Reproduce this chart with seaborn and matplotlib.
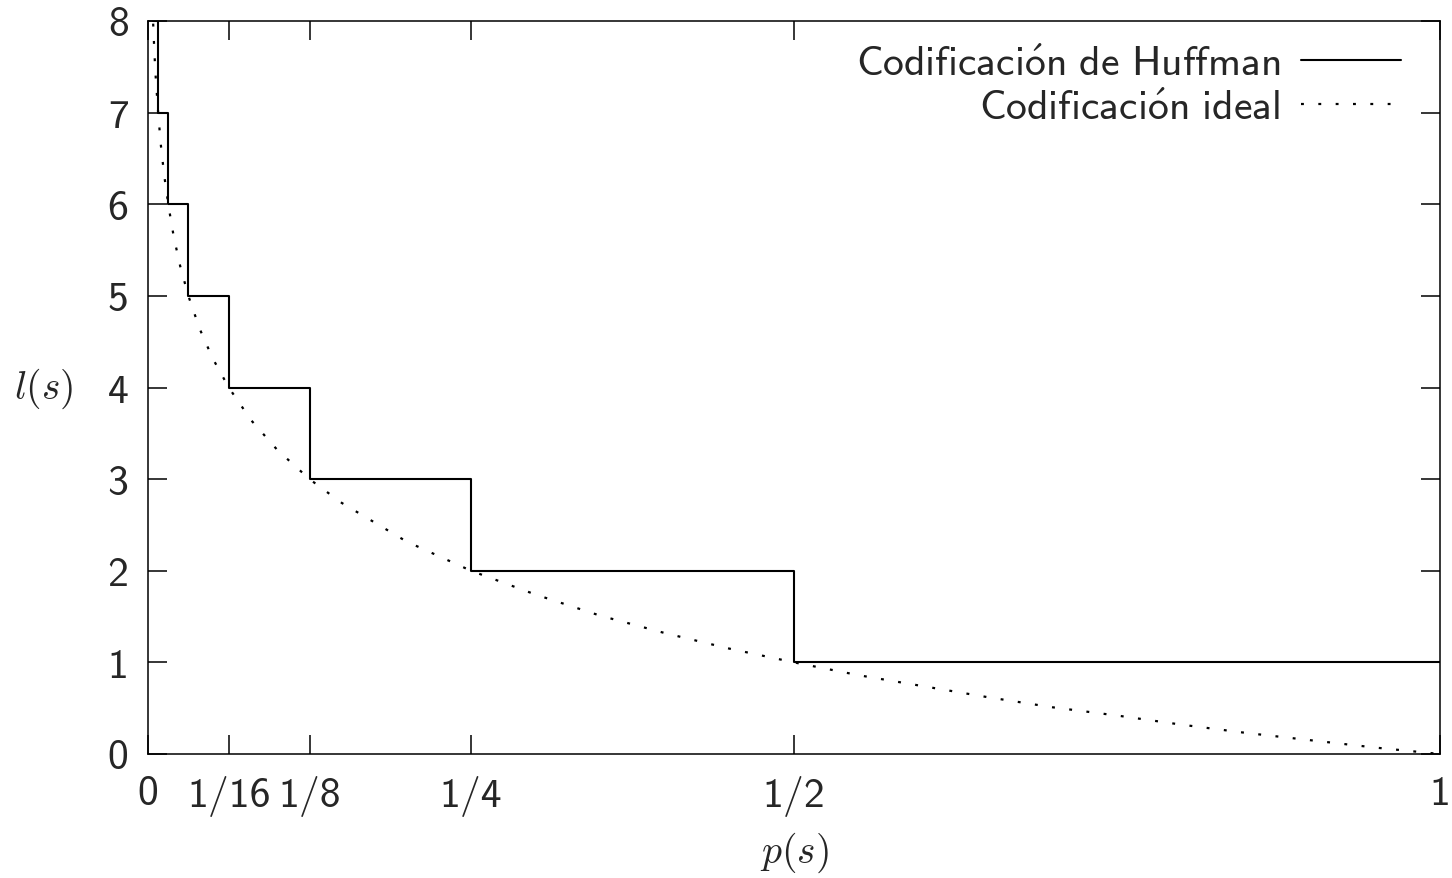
import matplotlib
matplotlib.use("Agg")
import matplotlib.pyplot as plt
import seaborn as sns
import pandas as pd

# Huffman code lengths (step function, steps-post)
p_huffman = [1/256, 1/128, 1/64, 1/32, 1/16, 1/8, 1/4, 1/2, 1.0]
l_huffman = [8, 7, 6, 5, 4, 3, 2, 1, 1]

# Ideal code length
p_ideal = [0.0035, 0.004, 0.005, 0.006, 0.008, 0.01, 0.0125, 0.016, 0.02, 0.025,
           0.03125, 0.04, 0.05, 0.0625, 0.08, 0.1, 0.125, 0.15, 0.2, 0.25,
           0.3, 0.35, 0.4, 0.45, 0.5, 0.55, 0.6, 0.65, 0.7, 0.75, 0.8, 0.85,
           0.9, 0.95, 1.0]
l_ideal = [8.16, 7.97, 7.64, 7.38, 6.97, 6.64, 6.32, 5.97, 5.64, 5.32,
           5.0, 4.64, 4.32, 4.0, 3.64, 3.32, 3.0, 2.74, 2.32, 2.0,
           1.74, 1.51, 1.32, 1.15, 1.0, 0.86, 0.74, 0.62, 0.51, 0.42, 0.32, 0.23,
           0.15, 0.07, 0.0]

x_ticks = [0, 1/16, 1/8, 1/4, 1/2, 1]
x_tick_labels = ["0", "1/16", "1/8", "1/4", "1/2", "1"]
y_ticks = [0, 1, 2, 3, 4, 5, 6, 7, 8]

label_huffman = "Codificación de Huffman"
label_ideal = "Codificación ideal"

sns.set_style("ticks")
plt.rcParams["mathtext.fontset"] = "cm"

def sf(s):
    s = s.replace("ó", r"\acute{o}").replace(" ", r"\ ")
    return r"$\mathsf{" + s + "}$"

df_h = pd.DataFrame({"p": p_huffman, "l": l_huffman})
df_i = pd.DataFrame({"p": p_ideal, "l": l_ideal})

fig = plt.figure(figsize=(14.52, 8.79), dpi=100)
ax = fig.add_axes([148/1452, 1 - 755/879, 1292/1452, 733/879])

sns.lineplot(data=df_h, x="p", y="l", ax=ax, color="black", lw=1.5,
             drawstyle="steps-post", label=sf(label_huffman), estimator=None)
sns.lineplot(data=df_i, x="p", y="l", ax=ax, color="black", lw=1.6,
             linestyle=(0, (1.3, 6.5)), label=sf(label_ideal), estimator=None)

ax.set_xlim(0, 1)
ax.set_ylim(0, 8)
ax.set_xticks(x_ticks)
ax.set_xticklabels(x_tick_labels, fontfamily="cmss10", fontsize=30)
ax.set_yticks(y_ticks)
ax.set_yticklabels([str(t) for t in y_ticks], fontfamily="cmss10", fontsize=30)

ax.tick_params(axis="both", direction="in", length=14, width=1.1,
               top=True, right=True, color="black")
ax.tick_params(axis="x", pad=15)
ax.tick_params(axis="y", pad=14)
for s in ax.spines.values():
    s.set_linewidth(1.1)
    s.set_color("black")

ax.set_xlabel(r"$p(s)$", fontsize=28.5, labelpad=10)
ax.set_ylabel(r"$l(s)$", fontsize=28.5, rotation=0, labelpad=46, va="center")

leg = ax.legend(loc="upper right", bbox_to_anchor=(0.97, 0.972), frameon=False,
                markerfirst=False, fontsize=30, handlelength=2.4,
                handletextpad=0.5, labelspacing=0.05, borderpad=0,
                borderaxespad=0)

fig.savefig("out.png", dpi=100, facecolor="white")
